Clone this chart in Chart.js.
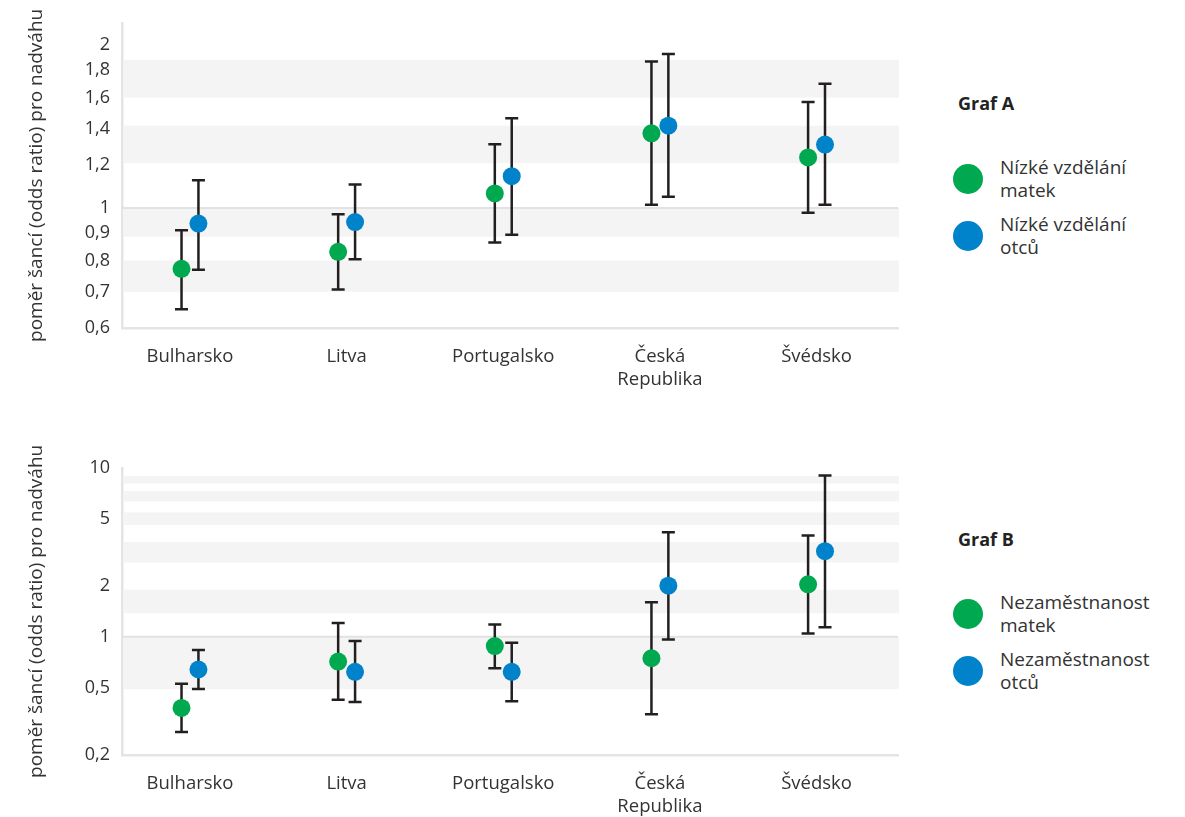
<!DOCTYPE html>
<html>
<head>
<meta charset="utf-8">
<script src="https://cdn.jsdelivr.net/npm/chart.js@4"></script>
<style>
  body { margin: 0; background: #fff; font-family: "Open Sans", sans-serif; color: #333; }
  canvas { position: absolute; left: 0; }
  #chartA { top: 0; }
  #chartB { top: 445px; }
  .legend { position: absolute; left: 953px; width: 232px; }
  .legend h3 { margin: 0 0 0 5px; font-size: 18px; font-weight: 700; color: #222; line-height: 24px; }
  .item { position: absolute; left: 0; height: 46px; }
  .dot { position: absolute; left: 0; top: 8px; width: 30px; height: 30px; border-radius: 50%; }
  .txt { position: absolute; left: 47px; top: 0; font-size: 19px; line-height: 23px; white-space: nowrap; }
</style>
</head>
<body>
<canvas id="chartA" width="920" height="400"></canvas>
<canvas id="chartB" width="920" height="372"></canvas>

<div class="legend" style="top:91px">
  <h3>Graf A</h3>
  <div class="item" style="top:65px"><span class="dot" id="dotA1"></span><span class="txt">Nízké vzdělání<br>matek</span></div>
  <div class="item" style="top:122px"><span class="dot" id="dotA2"></span><span class="txt">Nízké vzdělání<br>otců</span></div>
</div>
<div class="legend" style="top:527px">
  <h3>Graf B</h3>
  <div class="item" style="top:64px"><span class="dot" id="dotB1"></span><span class="txt">Nezaměstnanost<br>matek</span></div>
  <div class="item" style="top:121px"><span class="dot" id="dotB2"></span><span class="txt">Nezaměstnanost<br>otců</span></div>
</div>

<script>
var countries = ['Bulharsko', 'Litva', 'Portugalsko', ['Česká', 'Republika'], 'Švédsko'];

// Graf A – nízké vzdělání rodičů
var matkyVzdelani = [0.772, 0.830, 1.064, 1.374, 1.240];
var matkyVzdelaniLow = [0.650, 0.707, 0.863, 1.014, 0.980];
var matkyVzdelaniHigh = [0.910, 0.974, 1.312, 1.865, 1.571];
var otciVzdelani = [0.936, 0.942, 1.145, 1.420, 1.310];
var otciVzdelaniLow = [0.769, 0.804, 0.892, 1.049, 1.014];
var otciVzdelaniHigh = [1.126, 1.105, 1.466, 1.926, 1.697];

// Graf B – nezaměstnanost rodičů
var matkyNezam = [0.380, 0.714, 0.882, 0.747, 2.045];
var matkyNezamLow = [0.274, 0.424, 0.653, 0.348, 1.047];
var matkyNezamHigh = [0.528, 1.208, 1.182, 1.604, 3.98];
var otciNezam = [0.641, 0.621, 0.621, 2.009, 3.21];
var otciNezamLow = [0.492, 0.411, 0.416, 0.966, 1.14];
var otciNezamHigh = [0.836, 0.944, 0.922, 4.16, 9.01];

var ticksA = [0.6, 0.7, 0.8, 0.9, 1, 1.2, 1.4, 1.6, 1.8, 2];
var ticksB = [0.2, 0.5, 1, 2, 5, 10];
var bandsA = [[0.7, 0.8], [0.885, 1], [1.21, 1.42], [1.6, 1.88]];
var bandsB = [[0.49, 1], [1.38, 1.9], [2.75, 3.64], [4.59, 5.45], [6.32, 7.3], [8.06, 8.94]];

var GREEN = '#00a94f';
var BLUE = '#0083ca';
var shift = 0.054;

document.getElementById('dotA1').style.background = GREEN;
document.getElementById('dotA2').style.background = BLUE;
document.getElementById('dotB1').style.background = GREEN;
document.getElementById('dotB2').style.background = BLUE;

Chart.defaults.font.family = '"Open Sans", sans-serif';
Chart.defaults.font.size = 18;
Chart.defaults.color = '#333';

function points(vals, low, high, dx) {
    return vals.map(function (v, i) {
        return { x: i + dx, y: v, low: low[i], high: high[i] };
    });
}

function fmt(v) {
    return String(v).replace('.', ',');
}

// light stripes plus the reference line at 1
var bands = {
    id: 'bands',
    beforeDatasetsDraw: function (chart, args, opts) {
        var ctx = chart.ctx, a = chart.chartArea, ys = chart.scales.y;
        ctx.save();
        ctx.fillStyle = '#f4f4f4';
        opts.list.forEach(function (b) {
            var y1 = ys.getPixelForValue(b[1]), y2 = ys.getPixelForValue(b[0]);
            ctx.fillRect(a.left + 1, y1, a.right - a.left, y2 - y1);
        });
        var y = ys.getPixelForValue(1);
        ctx.strokeStyle = '#e2e2e4';
        ctx.lineWidth = 2;
        ctx.beginPath();
        ctx.moveTo(a.left, y);
        ctx.lineTo(a.right, y);
        ctx.stroke();
        ctx.restore();
    }
};

var errorBars = {
    id: 'errorBars',
    beforeDatasetsDraw: function (chart) {
        var ctx = chart.ctx, xs = chart.scales.x, ys = chart.scales.y;
        ctx.save();
        ctx.strokeStyle = '#231f20';
        ctx.lineWidth = 2.5;
        chart.data.datasets.forEach(function (ds) {
            ds.data.forEach(function (p) {
                var x = xs.getPixelForValue(p.x);
                var y1 = ys.getPixelForValue(p.low);
                var y2 = ys.getPixelForValue(p.high);
                ctx.beginPath();
                ctx.moveTo(x, y1); ctx.lineTo(x, y2);
                ctx.moveTo(x - 6.5, y1); ctx.lineTo(x + 6.5, y1);
                ctx.moveTo(x - 6.5, y2); ctx.lineTo(x + 6.5, y2);
                ctx.stroke();
            });
        });
        ctx.restore();
    }
};

function makeChart(id, sets, yMin, yMax, yTicks, bandList, padTop, xHeight) {
    return new Chart(document.getElementById(id), {
        type: 'scatter',
        data: {
            datasets: [
                { data: points(sets[0], sets[1], sets[2], -shift), backgroundColor: GREEN, borderWidth: 0, pointRadius: 9 },
                { data: points(sets[3], sets[4], sets[5], shift), backgroundColor: BLUE, borderWidth: 0, pointRadius: 9 }
            ]
        },
        options: {
            responsive: false,
            animation: false,
            layout: { padding: { left: 0, right: 22, top: padTop, bottom: 0 } },
            plugins: {
                legend: { display: false },
                tooltip: { enabled: false },
                bands: { list: bandList }
            },
            scales: {
                x: {
                    type: 'linear',
                    min: -0.434,
                    max: 4.52,
                    afterBuildTicks: function (s) {
                        s.ticks = countries.map(function (c, i) { return { value: i }; });
                    },
                    afterFit: function (s) { s.height = xHeight; },
                    ticks: {
                        padding: 17,
                        maxRotation: 0,
                        autoSkip: false,
                        font: { size: 18.5, lineHeight: 1.25 },
                        callback: function (v) { return countries[v]; }
                    },
                    grid: { display: false, drawTicks: false },
                    border: { display: true, color: '#e4e4e7', width: 2.5 }
                },
                y: {
                    type: 'logarithmic',
                    min: yMin,
                    max: yMax,
                    afterBuildTicks: function (s) {
                        s.ticks = yTicks.map(function (v) { return { value: v }; });
                    },
                    afterFit: function (s) { s.width = 122; },
                    ticks: {
                        padding: 12,
                        font: { size: 18 },
                        callback: function (v) { return fmt(v); }
                    },
                    title: {
                        display: true,
                        text: 'poměr šancí (odds ratio) pro nadváhu',
                        font: { size: 19 },
                        padding: { top: 25, bottom: 0 }
                    },
                    grid: { display: false, drawTicks: false },
                    border: { display: true, color: '#e4e4e7', width: 2.5 }
                }
            }
        },
        plugins: [bands, errorBars]
    });
}

makeChart('chartA',
    [matkyVzdelani, matkyVzdelaniLow, matkyVzdelaniHigh, otciVzdelani, otciVzdelaniLow, otciVzdelaniHigh],
    0.6, 2.2, ticksA, bandsA, 20, 72);

makeChart('chartB',
    [matkyNezam, matkyNezamLow, matkyNezamHigh, otciNezam, otciNezamLow, otciNezamHigh],
    0.2, 10, ticksB, bandsB, 20, 62);
</script>
</body>
</html>
